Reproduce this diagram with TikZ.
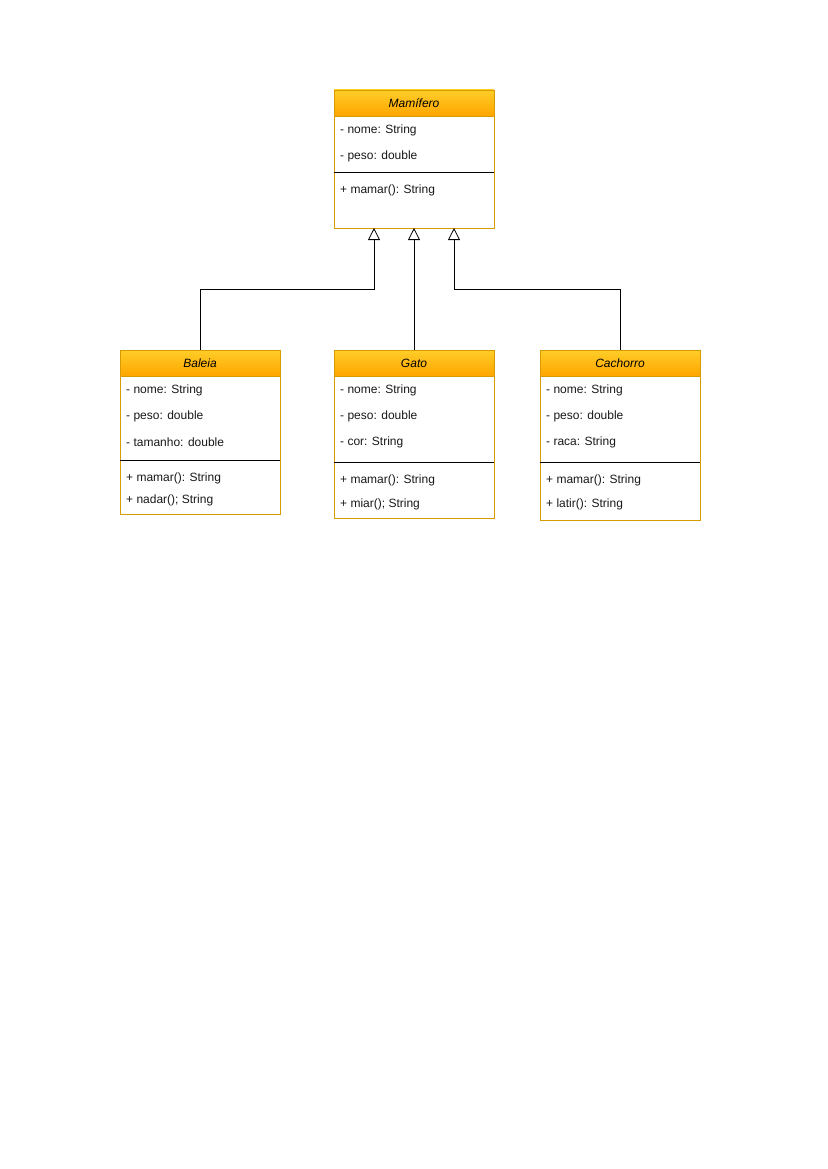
\documentclass[tikz,border=0pt]{standalone}
\usepackage{fontspec}
\setmainfont{Liberation Sans}
\usetikzlibrary{arrows.meta}
\definecolor{hdtop}{HTML}{FFCD28}
\definecolor{hdbot}{HTML}{FFA500}
\definecolor{stroke}{HTML}{D79B00}
\tikzset{
  classbox/.style={draw=stroke, line width=0.8pt, fill=white, inner sep=0pt, outer sep=0pt, minimum width=160pt, anchor=north west},
  header/.style={draw=stroke, line width=0.8pt, top color=hdtop, bottom color=hdbot, inner sep=0pt, outer sep=0pt, minimum width=160pt, minimum height=26pt, anchor=north west, font=\fontsize{12pt}{14pt}\selectfont\itshape},
  member/.style={anchor=west, inner sep=0pt, yshift=-1.5pt, font=\fontsize{12pt}{14pt}\selectfont, text=black!90},
  divider/.style={line width=0.8pt, black},
  inh/.style={line width=0.8pt, -{Triangle[open, length=12pt, width=12pt]}},
}
\begin{document}
\begin{tikzpicture}[x=1pt,y=-1pt]
\useasboundingbox (0,0) rectangle (827,1169);
% Mamifero
\node[classbox, minimum height=138pt] (mam) at (334,90) {};
\node[header] (mamh) at (334,90) {Mamífero};
\node[member] (m1) at (340,129) {- nome: String};
\node[member] (m2) at (340,155) {- peso: double};
\draw[divider] (334,172) coordinate (md1) -- (494,172) coordinate (md2);
\node[member] (m3) at (340,189) {+ mamar(): String};
% Baleia
\node[classbox, minimum height=164pt] (bal) at (120,350) {};
\node[header] (balh) at (120,350) {Baleia};
\node[member] (b1) at (126,389) {- nome: String};
\node[member] (b2) at (126,415) {- peso: double};
\node[member] (b3) at (126,441) {- tamanho: double};
\draw[divider] (120,460) coordinate (bd1) -- (280,460) coordinate (bd2);
\node[member] (b4) at (126,477) {+ mamar(): String};
\node[member] (b5) at (126,499) {+ nadar(); String};
% Gato
\node[classbox, minimum height=168pt] (gat) at (334,350) {};
\node[header] (gath) at (334,350) {Gato};
\node[member] (g1) at (340,389) {- nome: String};
\node[member] (g2) at (340,415) {- peso: double};
\node[member] (g3) at (340,441) {- cor: String};
\draw[divider] (334,462) coordinate (gd1) -- (494,462) coordinate (gd2);
\node[member] (g4) at (340,479) {+ mamar(): String};
\node[member] (g5) at (340,503) {+ miar(); String};
% Cachorro
\node[classbox, minimum height=170pt] (cac) at (540,350) {};
\node[header] (cach) at (540,350) {Cachorro};
\node[member] (c1) at (546,389) {- nome: String};
\node[member] (c2) at (546,415) {- peso: double};
\node[member] (c3) at (546,441) {- raca: String};
\draw[divider] (540,462) coordinate (cd1) -- (700,462) coordinate (cd2);
\node[member] (c4) at (546,479) {+ mamar(): String};
\node[member] (c5) at (546,503) {+ latir(): String};
% connectors
\coordinate (mL) at ([xshift=-40pt]mam.south);
\coordinate (mR) at ([xshift=40pt]mam.south);
\coordinate (jL) at (200,289);
\coordinate (jR) at (620,289);
\draw[inh] (balh.north) -- (jL) -| (mL);
\draw[inh] (gath.north) -- (mam.south);
\draw[inh] (cach.north) -- (jR) -| (mR);
\end{tikzpicture}
\end{document}
